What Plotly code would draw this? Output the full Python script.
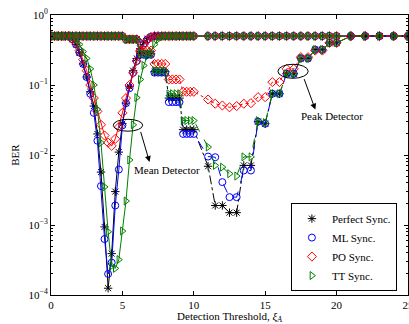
import math
import plotly.graph_objects as go

# Detection threshold grid (x values)
X = [0, 0.25, 0.5, 0.75, 1, 1.25, 1.5, 1.75, 2, 2.25, 2.5, 2.75, 3, 3.25, 3.5, 3.75,
     4, 4.25, 4.5, 4.75, 5, 5.25, 5.5, 5.75, 6, 6.25, 6.5, 6.75, 7, 7.25, 7.5, 7.75,
     8, 8.25, 8.5, 8.75, 9, 9.25, 9.5, 9.75, 10,
     11, 11.5, 12, 12.5, 13, 13.5, 14, 14.5, 15, 15.5, 16, 16.5, 17, 17.5, 18, 18.5, 19, 19.5, 20,
     21, 22, 23, 24, 25]

# ---- Mean detector BER ----
MEAN_PERFECT = [0.5, 0.5, 0.5, 0.5, 0.5, 0.5, 0.45, 0.38, 0.29, 0.2, 0.13, 0.08, 0.05, 0.02, 0.0057, 0.00094,
                0.000125, 0.00039, 0.003, 0.011, 0.028, 0.055, 0.095, 0.16, 0.24, 0.33, 0.41, 0.46, 0.49, 0.5, 0.5, 0.5,
                0.5, 0.5, 0.5, 0.5, 0.5, 0.5, 0.5, 0.5, 0.5,
                0.5, 0.5, 0.5, 0.5, 0.5, 0.5, 0.5, 0.5, 0.5, 0.5, 0.5, 0.5, 0.5, 0.5, 0.5, 0.5, 0.5, 0.5, 0.5,
                0.5, 0.5, 0.5, 0.5, 0.5]
MEAN_ML = [0.5, 0.5, 0.5, 0.5, 0.5, 0.5, 0.45, 0.38, 0.29, 0.2, 0.13, 0.075, 0.04, 0.016, 0.0036, 0.00063,
           0.0002, 0.00029, 0.0019, 0.0062, 0.0265, 0.055, 0.09, 0.15, 0.22, 0.31, 0.39, 0.45, 0.49, 0.5, 0.5, 0.5,
           0.5, 0.5, 0.5, 0.5, 0.5, 0.5, 0.5, 0.5, 0.5,
           0.5, 0.5, 0.5, 0.5, 0.5, 0.5, 0.5, 0.5, 0.5, 0.5, 0.5, 0.5, 0.5, 0.5, 0.5, 0.5, 0.5, 0.5, 0.5,
           0.5, 0.5, 0.5, 0.5, 0.5]
MEAN_PO = [0.5, 0.5, 0.5, 0.5, 0.5, 0.5, 0.46, 0.4, 0.31, 0.23, 0.16, 0.1, 0.065, 0.042, 0.027, 0.019,
           0.015, 0.0135, 0.017, 0.025, 0.04, 0.065, 0.1, 0.15, 0.22, 0.3, 0.38, 0.44, 0.48, 0.5, 0.5, 0.5,
           0.5, 0.5, 0.5, 0.5, 0.5, 0.5, 0.5, 0.5, 0.5,
           0.5, 0.5, 0.5, 0.5, 0.5, 0.5, 0.5, 0.5, 0.5, 0.5, 0.5, 0.5, 0.5, 0.5, 0.5, 0.5, 0.5, 0.5, 0.5,
           0.5, 0.5, 0.5, 0.5, 0.5]
MEAN_TT = [0.5, 0.5, 0.5, 0.5, 0.5, 0.5, 0.5, 0.45, 0.38, 0.3, 0.24, 0.17, 0.1, 0.045, 0.015, 0.0035,
           0.0008, 0.00026, 0.00024, 0.00032, 0.00082, 0.0022, 0.0085, 0.027, 0.066, 0.12, 0.19, 0.26, 0.3, 0.38, 0.45, 0.49,
           0.5, 0.5, 0.5, 0.5, 0.5, 0.5, 0.5, 0.5, 0.5,
           0.5, 0.5, 0.5, 0.5, 0.5, 0.5, 0.5, 0.5, 0.5, 0.5, 0.5, 0.5, 0.5, 0.5, 0.5, 0.5, 0.5, 0.5, 0.5,
           0.5, 0.5, 0.5, 0.5, 0.5]

# ---- Peak detector BER ----
PEAK_PERFECT = [0.5, 0.5, 0.5, 0.5, 0.5, 0.5, 0.5, 0.5, 0.5, 0.5, 0.5, 0.5, 0.5, 0.5, 0.5, 0.5,
                0.5, 0.5, 0.5, 0.5, 0.5, 0.45, 0.45, 0.45, 0.45, 0.28, 0.28, 0.28, 0.28, 0.155, 0.155, 0.155,
                0.155, 0.065, 0.065, 0.065, 0.065, 0.023, 0.023, 0.023, 0.023,
                0.0069, 0.0019, 0.0019, 0.0015, 0.0015, 0.0071, 0.0071, 0.03, 0.028, 0.075, 0.075, 0.145, 0.145,
                0.24, 0.24, 0.32, 0.32, 0.4, 0.4,
                0.5, 0.5, 0.5, 0.5, 0.5]
PEAK_ML = [0.5, 0.5, 0.5, 0.5, 0.5, 0.5, 0.5, 0.5, 0.5, 0.5, 0.5, 0.5, 0.5, 0.5, 0.5, 0.5,
           0.5, 0.5, 0.5, 0.5, 0.5, 0.45, 0.45, 0.45, 0.45, 0.27, 0.27, 0.27, 0.27, 0.15, 0.15, 0.15,
           0.15, 0.057, 0.057, 0.057, 0.057, 0.02, 0.02, 0.02, 0.02,
           0.0095, 0.0093, 0.0041, 0.0025, 0.0025, 0.006, 0.006, 0.03, 0.028, 0.075, 0.075, 0.145, 0.145,
           0.24, 0.24, 0.32, 0.32, 0.4, 0.4,
           0.5, 0.5, 0.5, 0.5, 0.5]
PEAK_PO = [0.5, 0.5, 0.5, 0.5, 0.5, 0.5, 0.5, 0.5, 0.5, 0.5, 0.5, 0.5, 0.5, 0.5, 0.5, 0.5,
           0.5, 0.5, 0.5, 0.5, 0.5, 0.45, 0.45, 0.45, 0.45, 0.31, 0.31, 0.31, 0.31, 0.2, 0.2, 0.2,
           0.2, 0.12, 0.12, 0.12, 0.12, 0.08, 0.08, 0.08, 0.08,
           0.062, 0.054, 0.051, 0.048, 0.05, 0.054, 0.055, 0.067, 0.067, 0.11, 0.11, 0.17, 0.17,
           0.25, 0.25, 0.31, 0.31, 0.4, 0.4,
           0.5, 0.5, 0.5, 0.5, 0.5]
PEAK_TT = [0.5, 0.5, 0.5, 0.5, 0.5, 0.5, 0.5, 0.5, 0.5, 0.5, 0.5, 0.5, 0.5, 0.5, 0.5, 0.5,
           0.5, 0.5, 0.5, 0.5, 0.5, 0.45, 0.45, 0.45, 0.45, 0.28, 0.28, 0.28, 0.28, 0.16, 0.16, 0.16,
           0.16, 0.075, 0.075, 0.075, 0.075, 0.031, 0.031, 0.031, 0.031,
           0.013, 0.0071, 0.0067, 0.0054, 0.005, 0.0094, 0.0094, 0.031, 0.029, 0.075, 0.075, 0.145, 0.145,
           0.24, 0.24, 0.32, 0.32, 0.4, 0.4,
           0.5, 0.5, 0.5, 0.5, 0.5]

NAMES = ["Perfect Sync.", "ML Sync.", "PO Sync.", "TT Sync."]
COLORS = ["black", "#0000ff", "#ff0000", "#008000"]
SYMBOLS = ["asterisk-open", "circle-open", "diamond-open", "triangle-right-open"]
PEAK_DASH = ["dashdot", "dash", "dot", "dash"]

MEAN = [MEAN_PERFECT, MEAN_ML, MEAN_PO, MEAN_TT]
PEAK = [PEAK_PERFECT, PEAK_ML, PEAK_PO, PEAK_TT]

FONT = "Liberation Serif"

fig = go.Figure()

for i in range(4):
    fig.add_trace(go.Scatter(
        x=X, y=MEAN[i], mode="lines+markers", showlegend=False,
        line=dict(color=COLORS[i], width=1),
        marker=dict(symbol=SYMBOLS[i], size=7, color=COLORS[i],
                    line=dict(color=COLORS[i], width=1))))

for i in range(4):
    fig.add_trace(go.Scatter(
        x=X, y=PEAK[i], mode="lines+markers", showlegend=False,
        line=dict(color=COLORS[i], width=1, dash=PEAK_DASH[i]),
        marker=dict(symbol=SYMBOLS[i], size=7, color=COLORS[i],
                    line=dict(color=COLORS[i], width=1))))

# legend entries (markers only)
for i in range(4):
    fig.add_trace(go.Scatter(
        x=[None], y=[None], mode="markers", name=NAMES[i], showlegend=True,
        marker=dict(symbol=SYMBOLS[i], size=7, color=COLORS[i],
                    line=dict(color=COLORS[i], width=1))))

YTICKS = [1e-4, 1e-3, 1e-2, 1e-1, 1]
YTICKTEXT = ["10<sup>\u22124</sup>", "10<sup>\u22123</sup>", "10<sup>\u22122</sup>",
             "10<sup>\u22121</sup>", "10<sup>0</sup>"]

# Annotation ellipses (shapes take data values on the log axis)
fig.add_shape(type="circle", xref="x", yref="y",
              x0=4.36, x1=6.42, y0=10 ** -1.66, y1=10 ** -1.49,
              line=dict(color="black", width=1))
fig.add_shape(type="circle", xref="x", yref="y",
              x0=15.89, x1=18.01, y0=10 ** -0.904, y1=10 ** -0.704,
              line=dict(color="black", width=1))

# Arrows and labels (annotations take log10 units on the log axis)
fig.add_annotation(x=6.9, y=-2.1, ax=6.25, ay=-1.649, xref="x", yref="y",
                   axref="x", ayref="y", text="", showarrow=True,
                   arrowhead=2, arrowsize=1.2, arrowwidth=1, arrowcolor="black")
fig.add_annotation(x=18.51, y=-1.351, ax=17.69, ay=-0.894, xref="x", yref="y",
                   axref="x", ayref="y", text="", showarrow=True,
                   arrowhead=2, arrowsize=1.2, arrowwidth=1, arrowcolor="black")
fig.add_annotation(x=8.12, y=-2.209, xref="x", yref="y", text="Mean Detector",
                   showarrow=False, font=dict(family=FONT, size=11, color="black"))
fig.add_annotation(x=19.68, y=-1.443, xref="x", yref="y", text="Peak Detector",
                   showarrow=False, font=dict(family=FONT, size=11, color="black"))

fig.update_layout(
    width=409, height=324,
    margin=dict(l=51, r=1, t=15, b=29),
    paper_bgcolor="white", plot_bgcolor="white",
    font=dict(family=FONT, size=11, color="black"),
    legend=dict(x=0.672, y=0.014, xanchor="left", yanchor="bottom",
                bgcolor="white", bordercolor="black", borderwidth=1,
                font=dict(family=FONT, size=11, color="black"),
                tracegroupgap=0),
)

fig.update_xaxes(
    range=[0, 25], tickvals=[0, 5, 10, 15, 20, 25],
    ticks="inside", ticklen=4, tickcolor="black", ticklabeloverflow="allow",
    automargin=False,
    showline=True, linecolor="black", linewidth=1, mirror="ticks",
    showgrid=False, zeroline=False,
    tickfont=dict(family=FONT, size=11, color="black"),
    title=dict(text="Detection Threshold, <i>\u03be</i><sub><i>A</i></sub>",
               font=dict(family=FONT, size=11, color="black"), standoff=4),
)
fig.update_yaxes(
    type="log", range=[-4, 0], tickvals=YTICKS, ticktext=YTICKTEXT,
    ticks="inside", ticklen=4, tickcolor="black",
    minor=dict(ticks="inside", ticklen=2, tickcolor="black", dtick="D1", showgrid=False),
    automargin=False,
    showline=True, linecolor="black", linewidth=1, mirror="ticks",
    showgrid=False, zeroline=False,
    tickfont=dict(family=FONT, size=11, color="black"),
    title=dict(text="BER", font=dict(family=FONT, size=11, color="black"), standoff=6),
)

fig.write_html("out.html")
